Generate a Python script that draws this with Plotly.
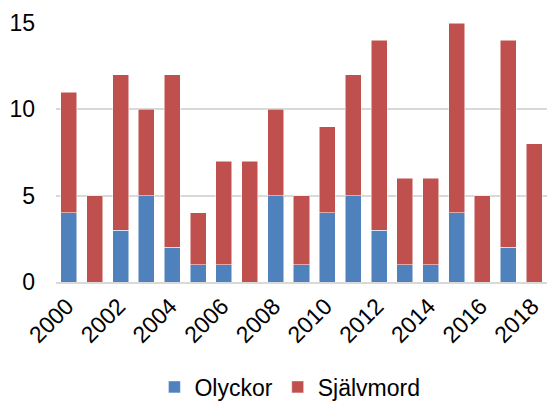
import plotly.graph_objects as go

years = list(range(2000, 2019))
olyckor = [4, 0, 3, 5, 2, 1, 1, 0, 5, 1, 4, 5, 3, 1, 1, 4, 0, 2, 0]
sjalvmord = [7, 5, 9, 5, 10, 3, 6, 7, 5, 4, 5, 7, 11, 5, 5, 11, 5, 12, 8]
tick_vals = list(range(2000, 2019, 2))
tick_text = [str(y) for y in tick_vals]

fig = go.Figure()
fig.add_trace(go.Bar(x=years, y=olyckor, name="Olyckor", marker=dict(color="#4F81BD", line=dict(color="white", width=0.5))))
fig.add_trace(go.Bar(x=years, y=sjalvmord, name="Självmord", marker=dict(color="#C0504D", line=dict(color="white", width=0.5))))

fig.update_layout(
    barmode="stack",
    bargap=0.38,
    width=547, height=401,
    margin=dict(l=56, r=0, t=23, b=119),
    paper_bgcolor="white", plot_bgcolor="white",
    font=dict(family="Liberation Sans, Arial, sans-serif", size=23, color="black"),
    showlegend=True,
    legend=dict(orientation="h", x=0.53, xref="container", xanchor="center",
                y=0.035, yref="container", yanchor="middle",
                font=dict(size=23), itemwidth=30, traceorder="normal"),
    xaxis=dict(tickmode="array", tickvals=tick_vals, ticktext=tick_text, tickangle=-45,
               range=[1999.5, 2018.5], showgrid=False, showline=True, linecolor="#D9D9D9",
               linewidth=1.5, ticks="", automargin=False, ticklabelshift=-2),
    yaxis=dict(range=[0, 15], tickvals=[0, 5, 10, 15], showgrid=True, gridcolor="#D9D9D9",
               gridwidth=1.5, zeroline=False, ticks="", automargin=False, ticklabelstandoff=20),
)
fig.write_html("out.html", config={"displayModeBar": False},
               post_script="document.body.style.margin='0';document.body.style.overflow='hidden';")
